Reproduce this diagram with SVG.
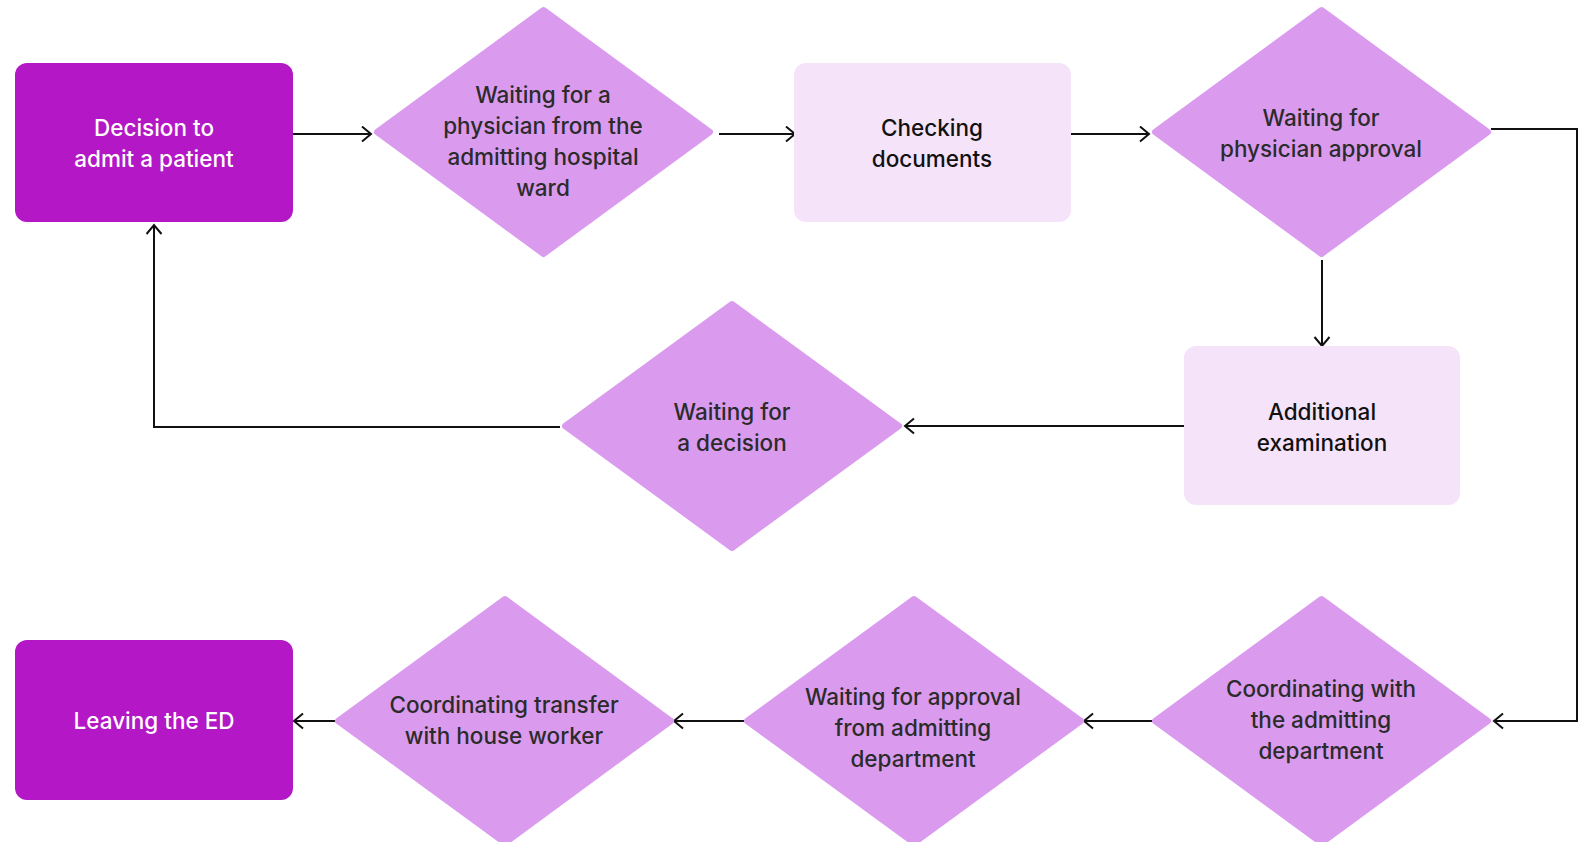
<svg xmlns="http://www.w3.org/2000/svg" width="1593" height="842" viewBox="0 0 1593 842">
<style>
.dark{fill:#B317C6}
.light{fill:#F5E3F9}
.dia{fill:#DA9BEE;stroke:#DA9BEE;stroke-width:6;stroke-linejoin:round}
text{font-family:Inter,"Noto Sans","Liberation Sans",sans-serif;font-size:22.5px;font-weight:500;text-anchor:middle}
.wt{fill:#ffffff}
.dt{fill:#2b2b2b}
.bt{fill:#111111}
.conn path{fill:none;stroke:#111;stroke-width:2}
</style>
<defs>
<marker id="arr" markerUnits="userSpaceOnUse" markerWidth="12" markerHeight="18" refX="10" refY="8.5" orient="auto">
<path d="M1,1 L10,8.5 L1,16" fill="none" stroke="#111" stroke-width="2"/>
</marker>
</defs>
<rect width="1593" height="842" fill="#ffffff"/>
<g class="conn">
<path d="M293,134 H371" marker-end="url(#arr)"/>
<path d="M719,134 H795" marker-end="url(#arr)"/>
<path d="M1071,134 H1149" marker-end="url(#arr)"/>
<path d="M1491,129 H1577 V721 H1494" marker-end="url(#arr)"/>
<path d="M1322,260 V346" marker-end="url(#arr)"/>
<path d="M1184,426 H905" marker-end="url(#arr)"/>
<path d="M560,427 H154 V225" marker-end="url(#arr)"/>
<path d="M1152,721 H1084" marker-end="url(#arr)"/>
<path d="M745,721 H674" marker-end="url(#arr)"/>
<path d="M335,721 H294" marker-end="url(#arr)"/>
</g>
<g id="n1">
<rect class="dark" x="15" y="63" width="278" height="159" rx="12"/>
<text class="wt" x="154" y="136">Decision to</text>
<text class="wt" x="154" y="167">admit a patient</text>
</g>
<g id="n2">
<polygon class="dia" points="543.5,10 710,132 543.5,254 377,132"/>
<text class="dt" x="543" y="102.5">Waiting for a</text>
<text class="dt" x="543" y="133.5">physician from the</text>
<text class="dt" x="543" y="164.5">admitting hospital</text>
<text class="dt" x="543" y="195.5">ward</text>
</g>
<g id="n3">
<rect class="light" x="794" y="63" width="277" height="159" rx="12"/>
<text class="bt" x="932" y="136">Checking</text>
<text class="bt" x="932" y="167">documents</text>
</g>
<g id="n4">
<polygon class="dia" points="1321.5,10 1488,132 1321.5,254 1155,132"/>
<text class="dt" x="1321" y="126">Waiting for</text>
<text class="dt" x="1321" y="157">physician approval</text>
</g>
<g id="n5">
<rect class="light" x="1184" y="346" width="276" height="159" rx="12"/>
<text class="bt" x="1322" y="419.5">Additional</text>
<text class="bt" x="1322" y="450.5">examination</text>
</g>
<g id="n6">
<polygon class="dia" points="732,304 899,426 732,548 565,426"/>
<text class="dt" x="732" y="419.5">Waiting for</text>
<text class="dt" x="732" y="450.5">a decision</text>
</g>
<g id="n7">
<polygon class="dia" points="1321.5,599 1488,721 1321.5,843 1155,721"/>
<text class="dt" x="1321" y="697">Coordinating with</text>
<text class="dt" x="1321" y="728">the admitting</text>
<text class="dt" x="1321" y="759">department</text>
</g>
<g id="n8">
<polygon class="dia" points="914,599 1081,721 914,843 747,721"/>
<text class="dt" x="913" y="705">Waiting for approval</text>
<text class="dt" x="913" y="736">from admitting</text>
<text class="dt" x="913" y="767">department</text>
</g>
<g id="n9">
<polygon class="dia" points="505,599 671,721 505,843 338,721"/>
<text class="dt" x="504" y="713">Coordinating transfer</text>
<text class="dt" x="504" y="744">with house worker</text>
</g>
<g id="n10">
<rect class="dark" x="15" y="640" width="278" height="160" rx="12"/>
<text class="wt" x="154" y="728.5">Leaving the ED</text>
</g>
</svg>
